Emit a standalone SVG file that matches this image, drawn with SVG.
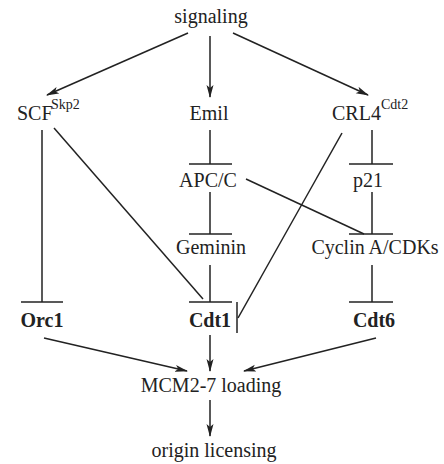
<svg xmlns="http://www.w3.org/2000/svg" width="444" height="464" viewBox="0 0 444 464">
<defs>
<marker id="arr" markerWidth="13" markerHeight="8" refX="12" refY="4" orient="auto" markerUnits="userSpaceOnUse">
<path d="M0,0.5 L13,4 L0,7.5 L3,4 z" fill="#222"/>
</marker>
<style>
text{font-family:"Liberation Serif","Times New Roman",serif;font-size:20px;fill:#222;text-anchor:middle}
.b{font-weight:bold}
.sup{font-size:14px;text-anchor:start}
.l{text-anchor:start}
line,path.c{stroke:#222;stroke-width:1.5;fill:none}
.a{marker-end:url(#arr)}
</style>
</defs>
<rect width="444" height="464" fill="#fff"/>
<g id="connectors">
<line class="a" x1="188" y1="33" x2="47" y2="95"/>
<line class="a" x1="210" y1="36" x2="210" y2="97"/>
<line class="a" x1="233" y1="33" x2="368" y2="95"/>
<line x1="42" y1="130" x2="42" y2="302"/>
<line x1="21" y1="302" x2="63" y2="302"/>
<line x1="54" y1="128" x2="203" y2="299"/>
<line x1="210" y1="130" x2="210" y2="164"/>
<line x1="189" y1="164" x2="232" y2="164"/>
<line x1="210" y1="192" x2="210" y2="234"/>
<line x1="189" y1="234" x2="232" y2="234"/>
<line x1="210" y1="265" x2="210" y2="302"/>
<line x1="189" y1="302" x2="232" y2="302"/>
<line x1="342" y1="133" x2="238" y2="318"/>
<line x1="237" y1="302" x2="237" y2="333"/>
<line x1="372" y1="130" x2="372" y2="164"/>
<line x1="349" y1="164" x2="393" y2="164"/>
<line x1="372" y1="192" x2="372" y2="234"/>
<line x1="349" y1="234" x2="393" y2="234"/>
<line x1="246" y1="179" x2="364" y2="234"/>
<line x1="372" y1="265" x2="372" y2="302"/>
<line x1="349" y1="302" x2="393" y2="302"/>
<line class="a" x1="44" y1="338" x2="187" y2="371"/>
<line class="a" x1="210" y1="335" x2="210" y2="371"/>
<line class="a" x1="376" y1="338" x2="244" y2="371"/>
<line class="a" x1="210" y1="400" x2="210" y2="436"/>
</g>
<g id="signaling"><text x="211" y="23">signaling</text></g>
<g id="scf"><text class="l" x="17" y="120">SCF</text><text class="sup" x="51" y="109">Skp2</text></g>
<g id="emil"><text x="209" y="120">Emil</text></g>
<g id="crl4"><text class="l" x="332" y="120">CRL4</text><text class="sup" x="381" y="109">Cdt2</text></g>
<g id="apcc"><text x="208" y="187">APC/C</text></g>
<g id="p21"><text x="368" y="187">p21</text></g>
<g id="geminin"><text x="211" y="254">Geminin</text></g>
<g id="cyclin"><text x="375" y="254">Cyclin A/CDKs</text></g>
<g id="orc1"><text class="b" x="42" y="327">Orc1</text></g>
<g id="cdt1"><text class="b" x="210" y="327">Cdt1</text></g>
<g id="cdt6"><text class="b" x="374" y="327">Cdt6</text></g>
<g id="mcm"><text x="211" y="392">MCM2-7 loading</text></g>
<g id="origin"><text x="214" y="457">origin licensing</text></g>
</svg>
